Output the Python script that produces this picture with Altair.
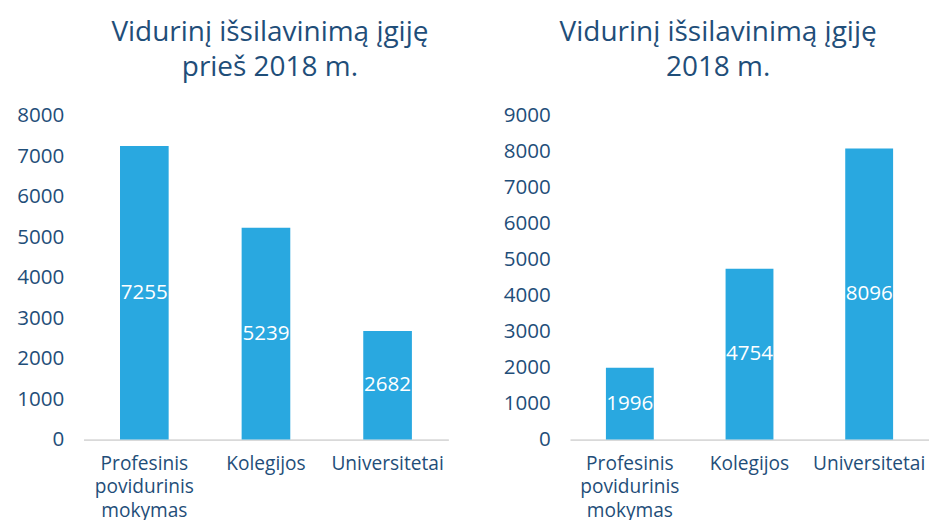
import altair as alt
import pandas as pd

categories = ["Profesinis povidurinis mokymas", "Kolegijos", "Universitetai"]
values_before = [7255, 5239, 2682]
values_2018 = [1996, 4754, 8096]
title_before = ["Vidurinį išsilavinimą įgiję", "prieš 2018 m."]
title_2018 = ["Vidurinį išsilavinimą įgiję", "2018 m."]
ticks_before = [0, 1000, 2000, 3000, 4000, 5000, 6000, 7000, 8000]
ticks_2018 = [0, 1000, 2000, 3000, 4000, 5000, 6000, 7000, 8000, 9000]

FONT = "Open Sans"
TXT = "#1F4E79"
BAR = "#29A8E0"


def panel(vals, title, ticks, width, title_dx):
    df = pd.DataFrame({"cat": categories, "val": vals})
    x = alt.X(
        "cat:N",
        sort=categories,
        scale=alt.Scale(paddingInner=0.6, paddingOuter=0.3),
        axis=alt.Axis(
            title=None,
            labelAngle=0,
            labelExpr="split(datum.label, ' ')",
            labelFontSize=19.5,
            labelColor=TXT,
            labelFont=FONT,
            labelPadding=15,
            labelLineHeight=24,
            ticks=False,
            domain=True,
            domainColor="#D9D9D9",
            domainWidth=2,
            grid=False,
        ),
    )
    yaxis = alt.Axis(
        title=None,
        values=ticks,
        format="d",
        labelFontSize=21,
        labelColor=TXT,
        labelFont=FONT,
        labelPadding=20,
        ticks=False,
        domain=False,
        grid=False,
    )
    yscale = alt.Scale(domain=[0, max(ticks)], nice=False)
    base = alt.Chart(df).encode(x=x)
    bars = base.mark_bar(color=BAR).encode(
        y=alt.Y("val:Q", scale=yscale, axis=yaxis)
    )
    text = (
        base.transform_calculate(mid="datum.val / 2")
        .mark_text(color="white", fontSize=21, font=FONT, baseline="middle")
        .encode(
            y=alt.Y("mid:Q", scale=yscale, axis=yaxis),
            text=alt.Text("val:Q", format="d"),
        )
    )
    return alt.layer(bars, text).properties(
        width=width,
        height=330,
        title=alt.TitleParams(
            text=title,
            fontSize=28.5,
            font=FONT,
            fontWeight="normal",
            color=TXT,
            anchor="middle",
            lineHeight=36,
            offset=24,
            dx=title_dx,
        ),
    )


left = panel(values_before, title_before, ticks_before, 372, 4)
right = panel(values_2018, title_2018, ticks_2018, 366, -32)

chart = (
    alt.hconcat(left, right, spacing=55)
    .properties(
        background="white",
        padding={"left": 8, "top": 5, "right": 0, "bottom": 0},
    )
    .configure_view(stroke=None)
)

chart.save("out.html", embed_options={"renderer": "svg", "actions": False})
